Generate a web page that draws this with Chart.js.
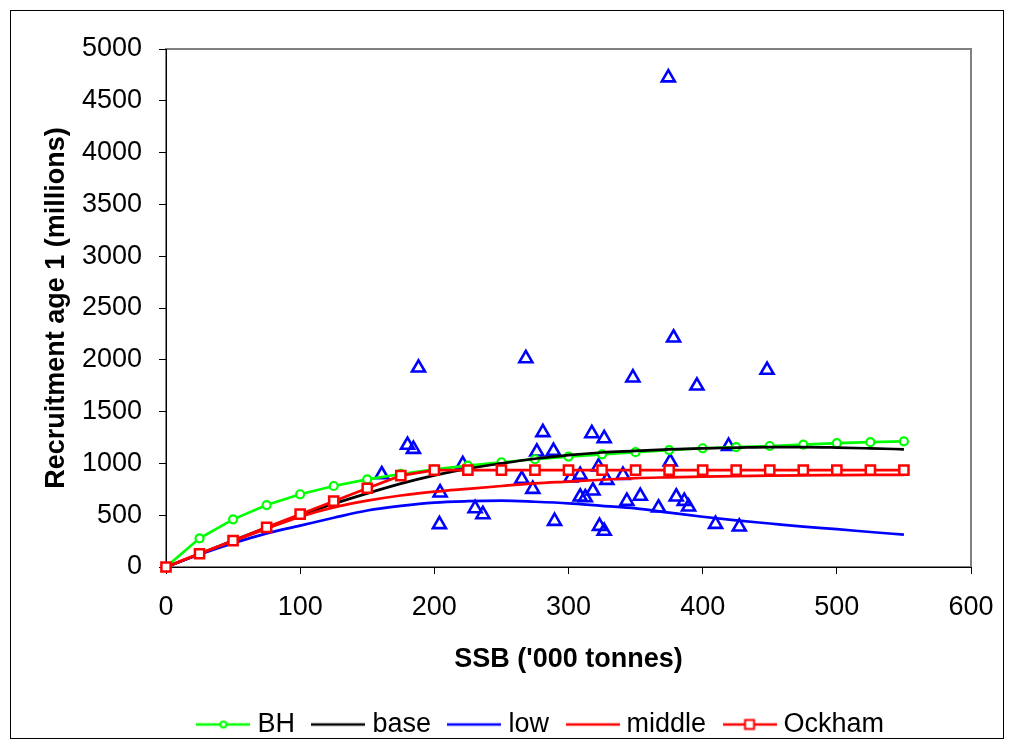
<!DOCTYPE html>
<html>
<head>
<meta charset="utf-8">
<script src="https://cdn.jsdelivr.net/npm/chart.js@4.4.0/dist/chart.umd.min.js"></script>
<style>
  html, body { margin: 0; padding: 0; background: #fff; }
  canvas { display: block; }
</style>
</head>
<body>
<canvas id="srChart" width="1014" height="749"></canvas>
<script>
// SSB grid of the fitted stock-recruit curves ('000 tonnes)
const ssbGrid = [0, 25, 50, 75, 100, 125, 150, 175, 200, 225, 250, 275, 300, 325, 350, 375, 400, 425, 450, 475, 500, 525, 550];
const bhVals = [0, 277, 460, 598, 702, 782, 846, 898, 942, 979, 1011, 1040, 1066, 1088, 1108, 1129, 1146, 1158, 1168, 1182, 1195, 1205, 1213];
const baseVals = [0, 125, 255, 380, 500, 610, 711, 805, 885, 950, 1000, 1045, 1080, 1105, 1120, 1135, 1145, 1152, 1158, 1158, 1153, 1145, 1136];
const lowVals = [0, 120, 229, 325, 400, 475, 545, 590, 622, 635, 640, 630, 615, 590, 566, 525, 485, 450, 420, 390, 365, 338, 312];
const middleVals = [0, 130, 250, 370, 486, 575, 640, 690, 727, 755, 782, 808, 825, 842, 858, 866, 873, 878, 882, 885, 887, 889, 890];
const ockhamVals = [0, 128, 254, 383, 510, 635, 760, 882, 935, 935, 935, 935, 935, 935, 935, 935, 935, 935, 935, 935, 935, 935, 935];

// observed pairs (SSB, recruits)
const obsSSB = [160.8, 180.0, 184.4, 188.2, 203.8, 204.3, 221.2, 230.4, 236.2, 265.2, 268.2, 273.4, 276.4, 280.9, 288.8, 289.6, 301.8, 308.7, 308.7, 312.5, 317.4, 318.2, 322.4, 323.1, 326.6, 326.6, 328.6, 340.6, 343.5, 348.0, 353.5, 367.1, 374.4, 375.8, 378.3, 380.3, 386.3, 389.5, 395.7, 409.6, 419.3, 427.3, 448.0];
const obsRec = [893, 1177, 1138, 1923, 411, 717, 990, 565, 507, 849, 2013, 752, 1112, 1299, 1119, 443, 861, 887, 678, 671, 1289, 736, 968, 395, 1241, 347, 839, 887, 636, 1827, 685, 572, 4724, 1016, 2213, 678, 636, 581, 1749, 414, 1167, 388, 1901];

// axes
const xRange = [0, 600], xStep = 100;
const yRange = [0, 5000], yStep = 500;
const xTitle = "SSB ('000 tonnes)";
const yTitle = "Recruitment age 1 (millions)";

const legendNames = ["BH", "base", "low", "middle", "Ockham"];
const legendColors = ["#00ff00", "#000000", "#0000ff", "#ff0000", "#ff0000"];
const legendMarks = ["circle", null, null, null, "rect"];

const toXY = (xs, ys) => xs.map((x, i) => ({ x: x, y: ys[i] }));

Chart.defaults.font.family = "'Liberation Sans', Arial, sans-serif";
Chart.defaults.color = "#000";

// little line+marker sample for the legend
function swatch(color, mark) {
  const c = document.createElement("canvas");
  c.width = 54; c.height = 16;
  const g = c.getContext("2d");
  g.strokeStyle = color; g.lineWidth = 2.5;
  g.beginPath(); g.moveTo(0, 8); g.lineTo(54, 8); g.stroke();
  g.fillStyle = "#fff"; g.lineWidth = 2;
  if (mark === "circle") {
    g.beginPath(); g.arc(27, 8, 3, 0, 2 * Math.PI); g.fill(); g.stroke();
  } else if (mark === "rect") {
    g.fillRect(22.5, 3.5, 9, 9); g.strokeRect(22.5, 3.5, 9, 9);
  }
  return c;
}

const framePlugin = {
  id: "frame",
  afterLayout(chart) {
    // move legend a bit right, like the excel one
    const lg = chart.legend;
    if (lg) { lg.left += 58; lg.right += 58; lg.top += 2; lg.bottom += 2; }
  },
  beforeDraw(chart) {
    const { ctx, chartArea: a } = chart;
    ctx.save();
    ctx.fillStyle = "#fff";
    ctx.fillRect(0, 0, chart.width, chart.height);
    ctx.strokeStyle = "#000"; ctx.lineWidth = 1;
    ctx.strokeRect(10.5, 10.5, 993, 728);
    ctx.strokeStyle = "#808080"; ctx.lineWidth = 2;
    ctx.strokeRect(a.left, a.top, a.right - a.left, a.bottom - a.top);
    ctx.restore();
  }
};

const lineSet = (label, ys, color, extra) => Object.assign({
  label: label,
  data: toXY(ssbGrid, ys),
  showLine: true,
  borderColor: color,
  backgroundColor: color,
  borderWidth: 2.7,
  pointRadius: 0,
  clip: false
}, extra);

const plainNum = (v) => String(v);

new Chart(document.getElementById("srChart"), {
  type: "scatter",
  data: {
    datasets: [
      lineSet("Ockham", ockhamVals, "#ff0000", {
        tension: 0, pointStyle: "rect", pointRadius: 6.5, pointBorderWidth: 2.5,
        pointBackgroundColor: "#fff", pointBorderColor: "#ff0000"
      }),
      lineSet("middle", middleVals, "#ff0000", { cubicInterpolationMode: "monotone" }),
      lineSet("low", lowVals, "#0000ff", { cubicInterpolationMode: "monotone" }),
      lineSet("base", baseVals, "#000000", { cubicInterpolationMode: "monotone" }),
      lineSet("BH", bhVals, "#00ff00", {
        tension: 0, pointStyle: "circle", pointRadius: 4, pointBorderWidth: 2.2,
        pointBackgroundColor: "#fff", pointBorderColor: "#00ff00"
      }),
      {
        label: "observed",
        data: toXY(obsSSB, obsRec),
        showLine: false,
        pointStyle: "triangle",
        pointRadius: 7.5,
        pointBorderWidth: 2.6,
        pointBorderColor: "#0000ff",
        pointBackgroundColor: "rgba(0,0,0,0)",
        clip: false
      }
    ]
  },
  options: {
    responsive: false,
    animation: false,
    layout: { padding: { left: 0, top: 49, right: 43, bottom: 3 } },
    plugins: {
      tooltip: { enabled: false },
      legend: {
        position: "bottom",
        labels: {
          usePointStyle: true,
          pointStyleWidth: 41,
          padding: 23,
          font: { size: 27 },
          color: "#000",
          generateLabels: () => legendNames.map((name, i) => ({
            text: name,
            pointStyle: swatch(legendColors[i], legendMarks[i]),
            fillStyle: legendColors[i],
            strokeStyle: legendColors[i],
            lineWidth: 0,
            fontColor: "#000",
            hidden: false,
            datasetIndex: i
          }))
        }
      }
    },
    scales: {
      x: {
        type: "linear",
        min: xRange[0], max: xRange[1],
        ticks: { stepSize: xStep, font: { size: 27 }, padding: 17, color: "#000", callback: plainNum },
        grid: { drawOnChartArea: false, drawTicks: true, tickLength: 7, color: "#000", lineWidth: 1 },
        border: { color: "#000", width: 1 },
        title: { display: true, text: xTitle, font: { size: 27, weight: "bold" }, padding: { top: 0, bottom: 10 }, color: "#000" },
        afterFit: (s) => { s.height = 119; }
      },
      y: {
        type: "linear",
        min: yRange[0], max: yRange[1],
        ticks: { stepSize: yStep, font: { size: 27 }, padding: 17, color: "#000", callback: plainNum },
        grid: { drawOnChartArea: false, drawTicks: true, tickLength: 7, color: "#000", lineWidth: 1 },
        border: { color: "#000", width: 1 },
        title: { display: true, text: yTitle, font: { size: 27, weight: "bold" }, padding: { top: 40, bottom: 0 }, color: "#000" },
        afterFit: (s) => { s.width = 166; }
      }
    }
  },
  plugins: [framePlugin]
});
</script>
</body>
</html>
